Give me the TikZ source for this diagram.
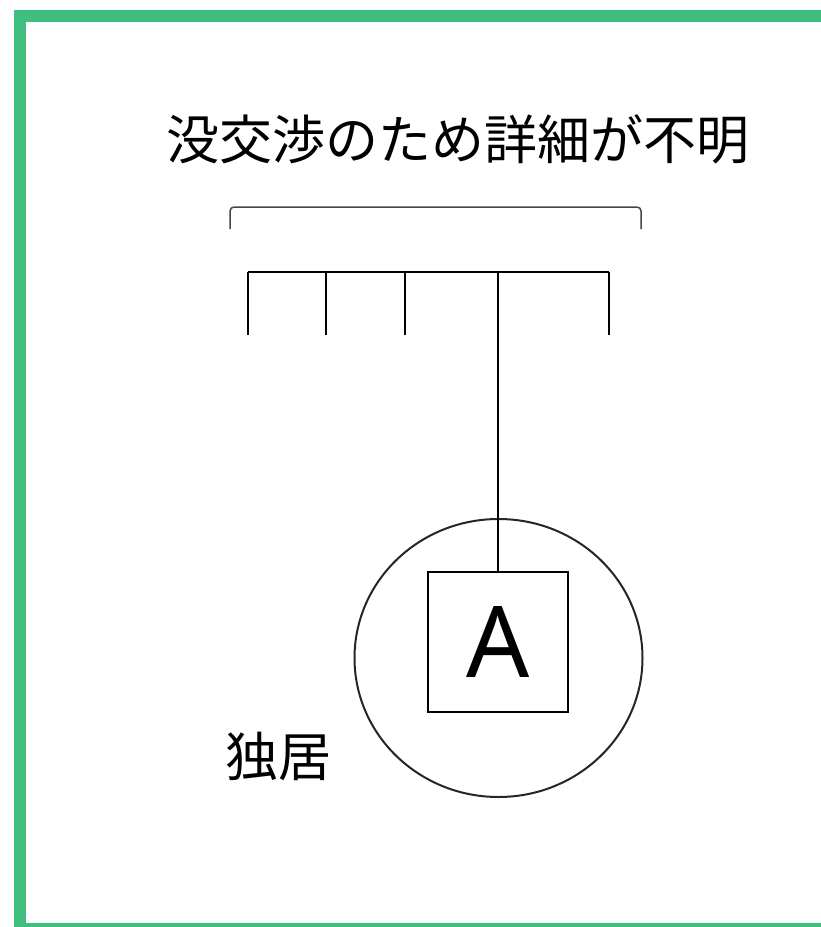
\documentclass[tikz,border=0pt]{standalone}
\usepackage{fontspec}
\usetikzlibrary{shapes.geometric}
\newfontfamily\cjkfont{Noto Sans CJK JP}
\newfontfamily\latinsans{Noto Sans}
\definecolor{framegreen}{RGB}{64,190,126}
\definecolor{bracketgray}{RGB}{70,70,70}
\begin{document}
\begin{tikzpicture}[x=1pt,y=-1pt,
  treeline/.style={line width=2pt,black},
  bracketline/.style={line width=1.5pt,bracketgray,rounded corners=4pt},
  titletext/.style={font=\cjkfont\fontsize{53}{60}\selectfont,inner sep=0pt},
  personbox/.style={draw,line width=2.5pt,minimum width=140pt,minimum height=140pt,inner sep=0pt,font=\latinsans\fontsize{99}{110}\selectfont},
  household/.style={draw=black!85,line width=2pt,ellipse,minimum width=288pt,minimum height=278pt}]
\useasboundingbox (0,0) rectangle (821,927);
\clip (0,0) rectangle (821,927);
\fill[white] (0,0) rectangle (821,927);
% frame
\draw[framegreen,line width=12pt] (840,16) -- (20,16) -- (20,929) -- (840,929);
% title
\node[titletext] (title) at (458,139) {没交渉のため詳細が不明};
% bracket
\coordinate (bl) at (230,229);
\coordinate (br) at (641,229);
\draw[bracketline] (bl) -- (230,207) -- (641,207) -- (br);
% tree
\coordinate (h1) at (248,272);
\coordinate (h2) at (326,272);
\coordinate (h3) at (405,272);
\coordinate (h4) at (498,272);
\coordinate (h5) at (609,272);
\coordinate (e1) at (248,335);
\coordinate (e2) at (326,335);
\coordinate (e3) at (405,335);
\coordinate (e5) at (609,335);
\draw[treeline] (h1) -- (h5);
\draw[treeline] (h1) -- (e1);
\draw[treeline] (h2) -- (e2);
\draw[treeline] (h3) -- (e3);
\draw[treeline] (h5) -- (e5);
% household circle and person
\node[household] (circ) at (498.5,658) {};
\node[personbox] (A) at (498,642) {A};
\draw[line width=1.5pt] (h4) -- (A.north);
% label
\node[titletext] (alone) at (278,756) {独居};
\end{tikzpicture}
\end{document}
